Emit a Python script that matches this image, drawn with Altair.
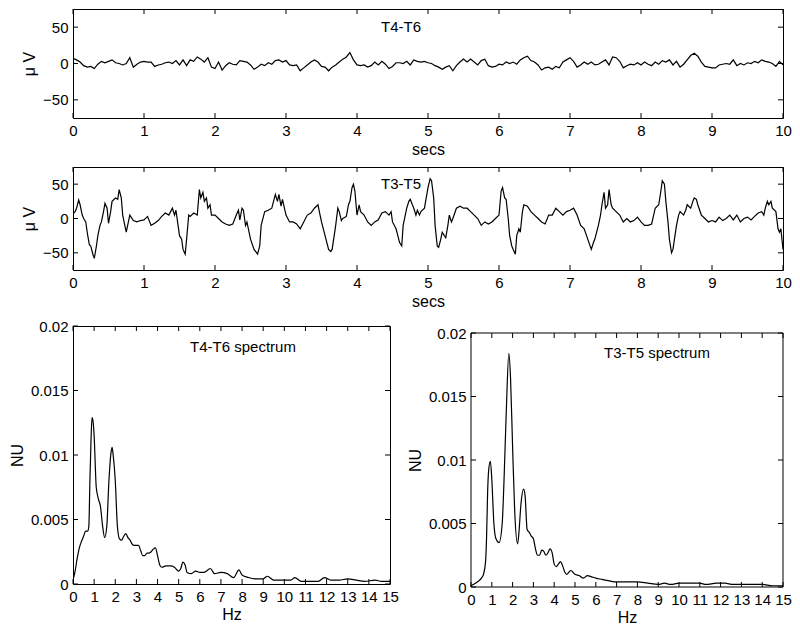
import altair as alt
import pandas as pd
import numpy as np

FONT = "Liberation Sans"

# ---------------- data ----------------
time_ticks = list(range(0, 11))
uv_ticks = [-50, 0, 50]
hz_ticks = list(range(0, 16))
nu_ticks = [0, 0.005, 0.01, 0.015, 0.02]

# T4-T6 trace, sampled every 0.05 s (0 .. 10 s), microvolts
t46_time = [round(0.05 * i, 2) for i in range(201)]
t46_uv = [
    7, 5, 2, -3, -5, -4, -7, -1, 3, 1, 3, 5, 1, 0, -2, 0, 8, -5, -1, 2,
    3, 2, 2, -4, -2, -1, 1, 2, 0, 4, -2, 5, -3, 5, 3, 9, 6, 2, 8, -5,
    -7, 2, -9, -3, 1, -1, -2, 4, 3, 2, -2, -8, -5, -1, -3, 1, -1, 4, 5, 2,
    4, -2, -3, -2, -10, -6, -2, 2, 5, 2, -4, -5, -10, -5, -2, 2, 6, 9, 15, 5,
    -2, -3, -2, -5, -3, 2, -2, 3, -1, -7, -4, 1, 1, 0, 3, -2, 5, 3, 2, 3,
    1, 0, -3, -5, -8, -5, -3, -10, -3, 2, 6, 2, 6, 2, -2, 4, 6, -3, -5, -4,
    -1, -2, 2, 0, 2, -1, 5, 8, 10, 4, 2, -2, -9, -6, -5, -8, -4, -6, 2, 5,
    8, 3, -5, -2, 2, -1, 2, -2, -1, 2, 5, -2, 9, 8, 3, -6, -3, -1, -2, 1,
    -2, 2, -1, -3, 2, -1, 4, 2, 5, -2, 3, -5, -1, 5, 11, 14, 10, 2, -4, -5,
    -6, -6, -2, -1, 0, -1, 5, -3, 0, -2, 1, 0, 3, 1, 5, 3, 2, 0, -4, 3,
    -2,
]

# T3-T5 trace, microvolts
t35_time = [
    0.0, 0.03, 0.05, 0.08, 0.1, 0.13, 0.15, 0.18, 0.2, 0.23, 0.25, 0.28, 0.3, 0.33, 0.35, 0.38, 0.4, 0.43, 0.45, 0.48,
    0.5, 0.53, 0.55, 0.58, 0.6, 0.63, 0.65, 0.68, 0.7, 0.73, 0.75, 0.78, 0.8, 0.85, 0.9, 0.95,
    1.0, 1.05, 1.1, 1.15, 1.2, 1.25, 1.3, 1.35, 1.4, 1.43, 1.45, 1.5, 1.53, 1.55, 1.58, 1.6, 1.63, 1.65, 1.7, 1.75,
    1.78, 1.8, 1.83, 1.85, 1.88, 1.9, 1.93, 1.95,
    2.0, 2.05, 2.1, 2.15, 2.2, 2.25, 2.3, 2.33, 2.35, 2.38, 2.4, 2.43, 2.45, 2.5, 2.55, 2.6, 2.63, 2.65, 2.7, 2.75,
    2.8, 2.85, 2.88, 2.9, 2.93, 2.95,
    3.0, 3.05, 3.1, 3.15, 3.2, 3.25, 3.3, 3.35, 3.4, 3.45, 3.48, 3.5, 3.55, 3.6, 3.63, 3.65, 3.7, 3.73, 3.75, 3.78,
    3.8, 3.85, 3.88, 3.9, 3.93, 3.95, 3.97,
    4.0, 4.03, 4.05, 4.1, 4.15, 4.2, 4.25, 4.3, 4.35, 4.4, 4.45, 4.48, 4.5, 4.55, 4.6, 4.63, 4.65, 4.68, 4.7, 4.73,
    4.75, 4.78, 4.8, 4.83, 4.85, 4.88, 4.9, 4.95,
    5.0, 5.03, 5.05, 5.08, 5.1, 5.13, 5.15, 5.18, 5.2, 5.23, 5.25, 5.28, 5.3, 5.33, 5.35, 5.4, 5.45, 5.5, 5.55, 5.6,
    5.65, 5.7, 5.75, 5.8, 5.85, 5.9, 5.95,
    6.0, 6.03, 6.05, 6.08, 6.1, 6.13, 6.15, 6.18, 6.2, 6.23, 6.25, 6.28, 6.3, 6.33, 6.35, 6.4, 6.45, 6.5, 6.55, 6.6,
    6.65, 6.7, 6.75, 6.8, 6.85, 6.9, 6.95,
    7.0, 7.05, 7.1, 7.15, 7.2, 7.25, 7.3, 7.33, 7.35, 7.4, 7.43, 7.45, 7.48, 7.5, 7.53, 7.55, 7.58, 7.6, 7.65, 7.7,
    7.75, 7.8, 7.85, 7.9, 7.95,
    8.0, 8.05, 8.1, 8.15, 8.2, 8.25, 8.28, 8.3, 8.33, 8.35, 8.38, 8.4, 8.43, 8.45, 8.5, 8.53, 8.55, 8.6, 8.63, 8.65,
    8.7, 8.73, 8.75, 8.78, 8.8, 8.85, 8.9, 8.95,
    9.0, 9.05, 9.1, 9.15, 9.2, 9.25, 9.3, 9.35, 9.4, 9.45, 9.5, 9.55, 9.6, 9.65, 9.7, 9.73, 9.75, 9.78, 9.8, 9.83,
    9.85, 9.9, 9.93, 9.95, 9.97, 10.0,
]
t35_uv = [
    7, 10, 15, 27, 20, 5, 0, -5, -20, -38, -40, -52, -58, -40, -25, -10, -5, 10, 22, 15,
    -7, 10, 25, 28, 30, 28, 42, 30, 5, -10, -20, -5, 5, -3, -5, -3,
    -2, 3, -10, -7, -3, 3, 8, 5, 15, 5, 12, -25, -30, -45, -52, -30, 5, 3, 8, 5,
    42, 30, 38, 25, 30, 15, 20, 5,
    5, 0, -5, -8, -10, -8, 5, 12, -2, 15, 12, -10, -5, -30, -45, -52, -40, -10, 10, 12,
    15, 35, 25, 35, 18, 28,
    5, -5, -5, -8, -15, -5, 5, 8, 15, 20, 5, -5, -25, -45, -48, -45, -10, 15, 10, -3,
    0, 3, 20, 25, 45, 50, 40,
    5, 20, 10, 5, -5, -10, -5, -2, 8, 10, 5, 10, -5, -15, -35, -40, -10, 5, 15, 25,
    28, 20, 15, 5, 12, 5, 10, 15,
    45, 58, 55, 30, -10, -40, -42, -30, -20, -25, -28, -10, 5, -5, 0, 15, 18, 15, 15, 10,
    5, 0, -10, -5, -8, -5, 0,
    5, 40, 45, 30, 28, 0, -25, -40, -45, -52, -25, -15, -20, 10, 20, 18, 10, 5, 0, -5,
    -8, 5, 5, 15, 10, 5, 10,
    12, 15, 5, -10, -15, -30, -45, -35, -30, -10, 5, 20, 38, 15, 20, 42, 20, 15, 10, 5,
    -5, 0, -5, -3, 2,
    -5, -10, -10, -8, 15, 20, 40, 55, 50, 25, -5, -30, -50, -45, -10, 5, 10, 5, 12, 20,
    15, 25, 30, 28, 20, 5, 0, -5,
    -3, -5, 2, -3, 0, 5, -2, 5, -5, 0, 2, -2, 3, 8, 10, 5, 15, 25, 20, 25,
    15, 10, -15, -20, -15, -45,
]

# T4-T6 spectrum (Hz, NU)
s46_hz = [
    0.0, 0.1, 0.2, 0.3, 0.4, 0.5, 0.6, 0.7, 0.75, 0.8, 0.85, 0.9, 0.95, 1.0,
    1.1, 1.2, 1.3, 1.4, 1.5, 1.6, 1.7, 1.8, 1.85, 1.9, 2.0,
    2.1, 2.2, 2.3, 2.4, 2.5, 2.6, 2.7, 2.8, 2.9, 3.0,
    3.1, 3.2, 3.3, 3.4, 3.5, 3.6, 3.7, 3.8, 3.9, 4.0,
    4.1, 4.2, 4.4, 4.6, 4.8, 5.0, 5.1, 5.2, 5.3, 5.4,
    5.6, 5.8, 6.0, 6.2, 6.5, 6.7, 7.0, 7.3, 7.6, 7.85, 8.0, 8.3, 8.6, 9.0, 9.2, 9.5, 10.0,
    10.3, 10.5, 10.8, 11.2, 11.6, 11.9, 12.2, 12.6, 13.0, 13.4, 13.8, 14.3, 14.6, 15.0,
]
s46_nu = [
    0.0003, 0.0010, 0.0020, 0.0028, 0.0033, 0.0037, 0.0041, 0.0041, 0.0045, 0.0080, 0.0110, 0.0129, 0.0126, 0.0115,
    0.0075, 0.0066, 0.0060, 0.0045, 0.0036, 0.0045, 0.0080, 0.0102, 0.0106, 0.0100, 0.0080,
    0.0045, 0.0035, 0.0034, 0.0037, 0.0039, 0.0036, 0.0034, 0.0031, 0.0030, 0.0030,
    0.0030, 0.0026, 0.0022, 0.0022, 0.0024, 0.0024, 0.0025, 0.0027, 0.0028, 0.0022,
    0.0015, 0.0013, 0.0014, 0.0014, 0.0013, 0.0010, 0.0012, 0.0017, 0.0015, 0.0009,
    0.0008, 0.0010, 0.0009, 0.0009, 0.0012, 0.0008, 0.0009, 0.0008, 0.0005, 0.0011, 0.0007, 0.0005, 0.0004, 0.0004, 0.0006, 0.0003, 0.0003,
    0.0003, 0.0005, 0.0002, 0.0002, 0.0002, 0.0005, 0.0003, 0.0003, 0.0004, 0.0003, 0.0002, 0.0003, 0.0002, 0.0002,
]

# T3-T5 spectrum (Hz, NU)
s35_hz = [
    0.0, 0.3, 0.5, 0.6, 0.7, 0.75, 0.8, 0.85, 0.93, 1.0,
    1.1, 1.2, 1.35, 1.5, 1.6, 1.7, 1.82, 1.9, 2.0,
    2.1, 2.24, 2.3, 2.4, 2.53, 2.6, 2.7, 2.8, 2.9, 3.0,
    3.1, 3.2, 3.3, 3.4, 3.5, 3.6, 3.7, 3.8, 3.9, 4.0,
    4.1, 4.2, 4.3, 4.4, 4.5, 4.6,
    4.8, 5.0, 5.2, 5.4, 5.6, 5.8, 6.0,
    6.3, 6.6, 7.0, 7.5, 7.8, 8.0, 8.5, 9.0, 9.3, 9.6, 10.0,
    10.5, 11.0, 11.3, 11.8, 12.2, 12.6, 13.0, 13.5, 14.0, 14.5, 15.0,
]
s35_nu = [
    0.0001, 0.0004, 0.0007, 0.0010, 0.0020, 0.0040, 0.0075, 0.0092, 0.0099, 0.0085,
    0.0050, 0.0038, 0.0035, 0.0050, 0.0090, 0.0140, 0.0184, 0.0165, 0.0110,
    0.0060, 0.0034, 0.0042, 0.0065, 0.0077, 0.0072, 0.0045, 0.0043, 0.0040, 0.0038,
    0.0030, 0.0025, 0.0025, 0.0029, 0.0028, 0.0025, 0.0027, 0.0030, 0.0027, 0.0018,
    0.0016, 0.0018, 0.0020, 0.0017, 0.0012, 0.0010,
    0.0013, 0.0010, 0.0009, 0.0007, 0.0009, 0.0008, 0.0007,
    0.0006, 0.0005, 0.0004, 0.0004, 0.0004, 0.0004, 0.0003, 0.0002, 0.0003, 0.0002, 0.0003,
    0.0003, 0.0003, 0.0002, 0.0003, 0.0003, 0.0002, 0.0002, 0.0002, 0.0002, 0.0001, 0.0001,
]

# ---------------- layout ----------------
E = 64          # reserved y-axis extent
TICK = 5        # inward tick length

W1, H1 = 710, 109
W2, H2 = 710, 103
W3, H3 = 317, 258
W4, H4 = 312, 254
GAP4 = 7        # right spectrum sits a little lower than the left one


def panel(df, xf, yf, xdom, ydom, xticks, yticks, xtitle, ytitle, yfmt,
          w, h, label, lx, ly, ytx, interp="linear", gap=0, tpad=3):
    # with gap > 0 the view is taller by `gap` px and the frame starts `gap` px down
    ytop = ydom[1] + (ydom[1] - ydom[0]) * gap / h
    vh = h + gap
    xscale = alt.Scale(domain=xdom, nice=False, zero=False)
    yscale = alt.Scale(domain=[ydom[0], ytop], nice=False, zero=False)
    xaxis = alt.Axis(values=xticks, title=xtitle, format="d", labelOverlap=False,
                     labelFlush=False, labelPadding=5, titlePadding=tpad)
    yaxis = alt.Axis(values=yticks, title=ytitle, format=yfmt, labelPadding=5,
                     labelOverlap=False, labelFlush=False,
                     minExtent=E, maxExtent=E, titleX=ytx, titleY=gap + h / 2,
                     titleBaseline="middle", titleAngle=-90)
    X = lambda: alt.X(f"{xf}:Q", scale=xscale, axis=xaxis)
    Y = lambda: alt.Y(f"{yf}:Q", scale=yscale, axis=yaxis)

    line = alt.Chart(df).mark_line(color="black", strokeWidth=1.2,
                                   interpolate=interp, clip=True).encode(x=X(), y=Y())
    tx = pd.DataFrame({xf: xticks})
    ty = pd.DataFrame({yf: yticks})
    rk = dict(color="black", strokeWidth=1)
    bt = alt.Chart(tx).mark_rule(**rk).encode(x=X(), y=alt.value(vh - TICK), y2=alt.value(vh))
    tp = alt.Chart(tx).mark_rule(**rk).encode(x=X(), y=alt.value(gap), y2=alt.value(gap + TICK))
    lf = alt.Chart(ty).mark_rule(**rk).encode(y=Y(), x=alt.value(0), x2=alt.value(TICK))
    rt = alt.Chart(ty).mark_rule(**rk).encode(y=Y(), x=alt.value(w - TICK), x2=alt.value(w))
    txt = alt.Chart(pd.DataFrame({"label": [label]})).mark_text(
        font=FONT, fontSize=15, color="black", align="center", baseline="middle"
    ).encode(text="label:N", x=alt.value(lx), y=alt.value(gap + ly))
    layers = [line, bt, tp, lf, rt, txt]
    props = dict(width=w, height=vh)
    if gap > 0:
        one = pd.DataFrame({"k": [0]})
        layers += [
            alt.Chart(one).mark_rule(**rk).encode(x=alt.value(0), x2=alt.value(w), y=alt.value(gap)),
            alt.Chart(one).mark_rule(**rk).encode(x=alt.value(0), x2=alt.value(w), y=alt.value(vh)),
            alt.Chart(one).mark_rule(**rk).encode(x=alt.value(0), y=alt.value(gap), y2=alt.value(vh)),
            alt.Chart(one).mark_rule(**rk).encode(x=alt.value(w), y=alt.value(gap), y2=alt.value(vh)),
        ]
        props["view"] = alt.ViewBackground(stroke="transparent")
    return alt.layer(*layers).properties(**props)


df46 = pd.DataFrame({"t": t46_time, "uv": t46_uv})
df35 = pd.DataFrame({"t": t35_time, "uv": t35_uv})
sp46 = pd.DataFrame({"hz": s46_hz, "nu": s46_nu})
sp35 = pd.DataFrame({"hz": s35_hz, "nu": s35_nu})

p1 = panel(df46, "t", "uv", [0, 10], [-75, 75], time_ticks, uv_ticks, "secs", "μ V", "d",
           W1, H1, "T4-T6", 328, 18, -44)
p2 = panel(df35, "t", "uv", [0, 10], [-75, 75], time_ticks, uv_ticks, "secs", "μ V", "d",
           W2, H2, "T3-T5", 328, 17, -44)
p3 = panel(sp46, "hz", "nu", [0, 15], [0, 0.02], hz_ticks, nu_ticks, "Hz", "NU", "~g",
           W3, H3, "T4-T6 spectrum", 170, 21, -56, interp="monotone", tpad=2)
p4 = panel(sp35, "hz", "nu", [0, 15], [0, 0.02], hz_ticks, nu_ticks, "Hz", "NU", "~g",
           W4, H4, "T3-T5 spectrum", 186, 20, -56, interp="monotone", gap=GAP4, tpad=2)

bottom = alt.hconcat(p3, p4, spacing=7)
chart = alt.vconcat(p1, p2, bottom, spacing=8).properties(
    padding={"left": 0, "top": 0, "right": 0, "bottom": 0},
    background="white",
).configure_view(
    stroke="black", strokeWidth=1
).configure_axis(
    grid=False, domain=False, ticks=False, tickSize=0,
    labelFont=FONT, labelFontSize=15, labelColor="black",
    titleFont=FONT, titleFontSize=16, titleFontWeight="normal", titleColor="black",
)

chart.save("out.html", embed_options={"renderer": "svg", "actions": False})
